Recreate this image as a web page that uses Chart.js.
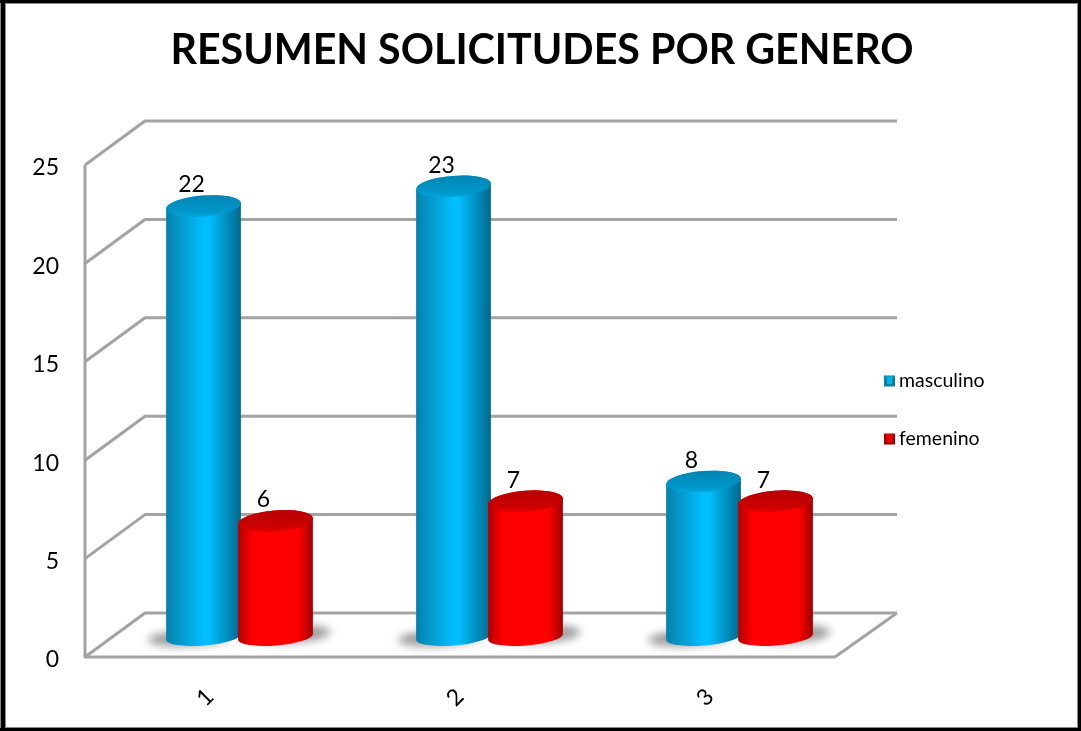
<!DOCTYPE html>
<html>
<head>
<meta charset="utf-8">
<title>Resumen solicitudes por genero</title>
<script src="https://cdn.jsdelivr.net/npm/chart.js@4"></script>
<style>
    html, body { margin: 0; padding: 0; background: #fff; }
    #wrap { position: relative; width: 1081px; height: 731px; }
</style>
</head>
<body>
<div id="wrap"><canvas id="solicitudesChart"></canvas></div>
<script>
const categories = ["1", "2", "3"];
const masculino = [22, 23, 8];
const femenino = [6, 7, 7];
const yTicks = [0, 5, 10, 15, 20, 25];

const fontFamily = "Lato, 'Open Sans', sans-serif";
const gridColor = "#a3a3a3";
const depthX = 60;
const depthY = -44;
const barShift = 29.5;

// paredes y piso en falsa perspectiva
function drawWalls(chart) {
    const { ctx, chartArea, scales } = chart;
    const y0 = scales.y.getPixelForValue(0);
    const left = chartArea.left;
    const right = chartArea.right;
    ctx.save();
    ctx.strokeStyle = gridColor;
    ctx.lineWidth = 3;
    ctx.lineJoin = "round";
    yTicks.forEach((t) => {
        const y = scales.y.getPixelForValue(t);
        ctx.beginPath();
        ctx.moveTo(left, y);
        ctx.lineTo(left + depthX, y + depthY);
        ctx.lineTo(right + depthX + 2, y + depthY);
        ctx.stroke();
    });
    ctx.beginPath();
    ctx.moveTo(left, scales.y.getPixelForValue(25));
    ctx.lineTo(left, y0);
    ctx.lineTo(right, y0);
    ctx.lineTo(right + depthX + 2, y0 + depthY);
    ctx.stroke();
    ctx.restore();
}

function drawShadow(ctx, x, y, rx, ry) {
    ctx.save();
    ctx.filter = "blur(4px)";
    ctx.fillStyle = "rgba(90, 90, 90, 0.6)";
    ctx.beginPath();
    ctx.ellipse(x, y, rx, ry, -0.05, 0, Math.PI * 2);
    ctx.fill();
    ctx.restore();
}

// cilindro a partir de la barra calculada por Chart.js
function drawCylinder(ctx, bar, baseY, shades) {
    const cx = bar.x + barShift;
    const r = bar.width / 2 + 1.5;
    const topY = bar.y - 18;
    const rot = -0.08;

    const side = ctx.createLinearGradient(cx - r, 0, cx + r, 0);
    side.addColorStop(0, shades.edgeL);
    side.addColorStop(shades.peakA, shades.main);
    side.addColorStop(shades.peakB, shades.main);
    side.addColorStop(1, shades.edgeR);

    ctx.save();
    ctx.fillStyle = side;
    ctx.beginPath();
    ctx.ellipse(cx, baseY, r, 8.5, rot, 0, Math.PI);
    ctx.ellipse(cx, topY, r, 10.5, rot, Math.PI, Math.PI * 2);
    ctx.closePath();
    ctx.fill();

    const cap = ctx.createLinearGradient(0, topY - 10, 0, topY + 11);
    cap.addColorStop(0, shades.capTop);
    cap.addColorStop(0.75, shades.capMid);
    cap.addColorStop(1, shades.capLow);
    ctx.fillStyle = cap;
    ctx.beginPath();
    ctx.ellipse(cx, topY, r, 10.5, rot, 0, Math.PI * 2);
    ctx.fill();
    ctx.restore();
}

// leyenda con cuadros biselados como en el original
function drawLegendItem(ctx, label, y, dark, main) {
    const x = 884;
    const size = 11;
    ctx.fillStyle = dark;
    ctx.fillRect(x, y - size / 2, size, size);
    ctx.fillStyle = main;
    ctx.beginPath();
    ctx.moveTo(x + 1, y - size / 2 + 1);
    ctx.lineTo(x + size - 1, y - size / 2 + 1);
    ctx.lineTo(x + size / 2, y + 1);
    ctx.closePath();
    ctx.fill();
    ctx.fillRect(x + 3, y - 2, size - 6, 5);
    ctx.fillStyle = "#000";
    ctx.font = "19.5px " + fontFamily;
    ctx.textAlign = "left";
    ctx.textBaseline = "middle";
    ctx.fillText(label, 899, y);
}

const blueShades = {
    edgeL: "#0680aa", edgeR: "#00688c", main: "#00bdfb", peakA: 0.48, peakB: 0.58,
    capTop: "#0086b4", capMid: "#0097ca", capLow: "#04a6dc",
};
const redShades = {
    edgeL: "#b00000", edgeR: "#a00000", main: "#ff0000", peakA: 0.2, peakB: 0.8,
    capTop: "#b80000", capMid: "#cc0000", capLow: "#e60000",
};

const cylinderPlugin = {
    id: "cylinders",
    afterLayout(chart) {
        // el titulo se centra sobre todo el lienzo, no sobre el area del grafico
        chart.titleBlock.left = 0;
        chart.titleBlock.right = 1084;
    },
    beforeDatasetsDraw(chart) {
        drawWalls(chart);
    },
    beforeDatasetDraw() {
        return false;
    },
    afterDatasetsDraw(chart) {
        const { ctx, scales } = chart;
        const baseY = scales.y.getPixelForValue(0) - 20;
        const blue = chart.getDatasetMeta(0).data;
        const red = chart.getDatasetMeta(1).data;

        blue.forEach((bar) => drawShadow(ctx, bar.x + barShift - 14, baseY + 1, 42, 8));
        red.forEach((bar) => drawShadow(ctx, bar.x + barShift + 15, baseY - 3, 40, 9));
        blue.forEach((bar) => drawCylinder(ctx, bar, baseY, blueShades));
        red.forEach((bar) => drawCylinder(ctx, bar, baseY, redShades));

        ctx.save();
        ctx.fillStyle = "#000";
        ctx.font = "23px " + fontFamily;
        ctx.textAlign = "center";
        ctx.textBaseline = "middle";
        [blue, red].forEach((bars, d) => {
            bars.forEach((bar, i) => {
                const value = chart.data.datasets[d].data[i];
                ctx.fillText(value, bar.x + barShift - 12, bar.y - 39);
            });
        });
        drawLegendItem(ctx, chart.data.datasets[0].label, 381, "#0a7fa6", "#00b4e6");
        drawLegendItem(ctx, chart.data.datasets[1].label, 439, "#a80000", "#f00000");
        ctx.restore();
    },
    afterDraw(chart) {
        const { ctx, width, height } = chart;
        ctx.save();
        ctx.fillStyle = "#888";
        ctx.fillRect(0, 0, width, 4);
        ctx.fillRect(0, 0, 6, height);
        ctx.fillRect(width - 4, 0, 4, height);
        ctx.fillRect(0, height - 4, width, 4);
        ctx.fillStyle = "#000";
        ctx.fillRect(0, 0, width, 3);
        ctx.fillRect(1, 0, 4, height);
        ctx.fillRect(width - 3, 0, 3, height);
        ctx.fillRect(0, height - 3, width, 3);
        ctx.restore();
    },
};

new Chart(document.getElementById("solicitudesChart"), {
    type: "bar",
    data: {
        labels: categories,
        datasets: [
            { label: "masculino", data: masculino, backgroundColor: "#00b4e6" },
            { label: "femenino", data: femenino, backgroundColor: "#f00000" },
        ],
    },
    options: {
        responsive: true,
        maintainAspectRatio: false,
        animation: false,
        layout: { padding: { right: 246 } },
        datasets: {
            bar: { barPercentage: 1, categoryPercentage: 0.576 },
        },
        plugins: {
            title: {
                display: true,
                text: "RESUMEN SOLICITUDES POR GENERO",
                color: "#000",
                font: { family: fontFamily, size: 41.2, weight: "bold" },
                padding: { top: 26, bottom: 89.6 },
            },
            legend: { display: false },
            tooltip: { enabled: false },
        },
        scales: {
            x: {
                offset: true,
                grid: { display: false, drawTicks: false },
                border: { display: false },
                ticks: {
                    color: "#000",
                    font: { family: fontFamily, size: 23 },
                    minRotation: 45,
                    maxRotation: 45,
                    padding: 26,
                },
                afterFit: (scale) => { scale.height = 74; },
            },
            y: {
                min: 0,
                max: 25,
                grid: { display: false, drawTicks: false },
                border: { display: false },
                ticks: {
                    color: "#000",
                    stepSize: 5,
                    padding: 26,
                    labelOffset: 3,
                    font: { family: fontFamily, size: 23 },
                },
                afterFit: (scale) => { scale.width = 85; },
            },
        },
    },
    plugins: [cylinderPlugin],
});
</script>
</body>
</html>
